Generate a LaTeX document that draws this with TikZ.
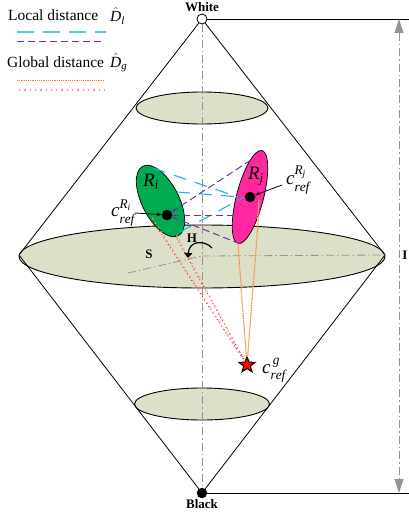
\documentclass[tikz,border=0pt]{standalone}
\usepackage{fontspec}
\usepackage{amsmath}
\setmainfont{Liberation Serif}
\usetikzlibrary{arrows.meta,shapes.geometric}
\definecolor{disc}{RGB}{221,224,200}
\definecolor{gr}{RGB}{0,170,80}
\definecolor{pk}{RGB}{255,40,160}
\definecolor{bl}{RGB}{30,180,240}
\definecolor{pu}{RGB}{112,48,160}
\definecolor{or}{RGB}{240,125,30}
\tikzset{
 cone/.style={draw=black,line width=0.8pt},
 discfill/.style={draw=black,line width=0.9pt,fill=disc},
 axisline/.style={draw=gray!85,line width=0.8pt,dash pattern=on 8pt off 3pt on 1.5pt off 3pt},
 bluedash/.style={draw=bl,line width=1.1pt,dash pattern=on 13pt off 9pt},
 bluelegend/.style={draw=bl!75,line width=1.5pt,dash pattern=on 17pt off 9pt},
 purpledash/.style={draw=pu,line width=1pt,dash pattern=on 7pt off 4pt},
 orangedot/.style={draw=or,line width=0.9pt,dash pattern=on 1.2pt off 1pt},
 orangepale/.style={draw=or!45,line width=1pt,dash pattern=on 1.5pt off 1pt},
 reddot/.style={draw=red,line width=0.9pt,dash pattern=on 0.9pt off 3pt},
 pinkdot/.style={draw=red!45,line width=1.2pt,dash pattern=on 1.3pt off 4pt},
 lbl/.style={inner sep=0pt,font=\fontsize{15.5}{17}\selectfont},
 bold/.style={inner sep=0pt,font=\fontsize{13}{14}\selectfont\bfseries},
 dot/.style={circle,fill=black,inner sep=0pt,minimum size=10.5pt},
 mth/.style={inner sep=0pt,font=\fontsize{19}{21}\selectfont},
}
\begin{document}
\begin{tikzpicture}[x=1pt,y=-1pt]
\useasboundingbox (0,0) rectangle (409,516);
% coordinates
\coordinate (L) at (19,255);
\coordinate (Rt) at (385,255);
\coordinate (C) at (202,256);
\coordinate (Se) at (128,273);
\coordinate (Ibot) at (399,493);
\coordinate (Itop) at (399,19);
\coordinate (Wr) at (409,19);
\coordinate (Br) at (409,493);
% lower and upper discs
\node[discfill,ellipse,minimum width=132pt,minimum height=32pt,inner sep=0pt] (up) at (202,108) {};
\node[discfill,ellipse,minimum width=135pt,minimum height=32pt,inner sep=0pt] (low) at (202,404) {};
\node[discfill,ellipse,minimum width=366pt,minimum height=63pt,inner sep=0pt] (mid) at (202,256.5) {};
% vertices
\node[circle,draw=black,fill=white,line width=0.8pt,inner sep=0pt,minimum size=10pt] (W) at (202,19) {};
\node[dot] (B) at (202,493) {};
% cone
\draw[cone] (W) -- (L) -- (B) -- (Rt) -- (W);
\draw[cone] (W) -- (Wr);
\draw[cone] (B) -- (Br);
% axes
\draw[axisline] (W) -- (B);
\draw[axisline] (C) -- (Rt);
\draw[axisline] (Se) -- (C);
\draw[draw=gray!85,line width=0.8pt,dash pattern=on 8pt off 3pt on 1.5pt off 3pt,{Triangle[width=9pt,length=14pt,fill=gray!85]}-{Triangle[width=9pt,length=14pt,fill=gray!85]}] (Itop) -- (Ibot);
% regions
\node[ellipse,draw=black,fill=gr,line width=0.7pt,minimum width=78pt,minimum height=37pt,inner sep=0pt,rotate=-63] (Ri) at (160.5,201) {};
\node[ellipse,draw=black,fill=pk,line width=0.7pt,minimum width=96pt,minimum height=27pt,inner sep=0pt,rotate=75.5] (Rj) at (250,197) {};
\node[dot] (ci) at (167,215) {};
\node[dot] (cj) at (250,197) {};
\node[star,star points=5,star point ratio=2.4,draw=black,fill=red,line width=1pt,inner sep=0pt,minimum size=17pt] (cg) at (247,365) {};
% end points on regions
\coordinate (g1) at (153,168);
\coordinate (g2) at (177,192);
\coordinate (g3) at (180,232);
\coordinate (p1) at (238,197);
\coordinate (p2) at (240,197);
\coordinate (p3) at (244,197);
\coordinate (p4) at (251,160);
\coordinate (p5) at (233,215);
\coordinate (p6) at (238,243);
\coordinate (p7) at (260,200);
\coordinate (g4) at (151,218);
\coordinate (g5) at (175,235);
% local distance
\draw[bluedash] (g1) -- (p1);
\draw[bluedash] (g2) -- (p2);
\draw[bluedash] (g3) -- (p3);
\draw[purpledash,-{Stealth[length=5pt]}] (p4) -- (ci);
\draw[purpledash] (ci) -- (p5);
\draw[purpledash] (ci) -- (p6);
% global distance
\draw[orangepale] ([xshift=-1pt]p6) -- (cg);
\draw[orangepale] ([xshift=-1pt]p7) -- (cg);
\draw[orangedot] (p6) -- (cg);
\draw[orangedot] (p7) -- (cg);
\draw[reddot] (g4) -- (cg);
\draw[pinkdot] ([xshift=1.5pt]g4) -- (cg);
\draw[reddot] (g5) -- (cg);
\draw[pinkdot] ([xshift=1.5pt]g5) -- (cg);
% H arc
\coordinate (H1) at (212,248);
\coordinate (H2) at (188,258);
\draw[black,line width=1.2pt,-{Triangle[width=8pt,length=5pt]}] (H1) .. controls (205,240) and (189,240) .. (H2);
% labels
\node[bold] (tW) at (202,7) {White};
\node[bold] (tB) at (202,504) {Black};
\node[bold] (tH) at (192,238) {H};
\node[bold] (tS) at (149,254) {S};
\node[bold] (tI) at (405,255) {I};
\node[mth] (tRi) at (151,182) {$\mathit{R}_{\mathit{i}}$};
\node[mth] (tRj) at (256,176) {$\mathit{R}_{\mathit{j}}$};
\node[mth] (tci) at (123,213) {$\mathit{c}_{\mathit{ref}}^{\mathit{R}_{\mathit{i}}}$};
\node[mth] (tcj) at (298,180) {$\mathit{c}_{\mathit{ref}}^{\mathit{R}_{\mathit{j}}}$};
\node[mth] (tcg) at (274,370) {$\mathit{c}_{\mathit{ref}}^{\,\mathit{g}}$};
\draw[black,line width=0.8pt,-{Stealth[open,length=5pt]}] (135,213) -- (ci);
\draw[black,line width=0.8pt,-{Stealth[open,length=5pt]}] (282,185) -- (cj);
% legend
\node[lbl,anchor=west] (t1) at (8,15) {Local distance};
\node[lbl,anchor=west] (d1) at (110,16) {$\hat{\mathit{D}}_{\mathit{l}}$};
\node[lbl,anchor=west] (t2) at (7,62) {Global distance};
\node[lbl,anchor=west] (d2) at (110,63) {$\hat{\mathit{D}}_{\mathit{g}}$};
\coordinate (a1) at (17,32); \coordinate (a2) at (106,32);
\coordinate (b1) at (17,42); \coordinate (b2) at (103,42);
\coordinate (e1) at (17,80); \coordinate (e2) at (105,80);
\coordinate (f1) at (19,90); \coordinate (f2) at (105,90);
\draw[bluelegend] (a1) -- (a2);
\draw[purpledash] (b1) -- (b2);
\draw[orangedot] (e1) -- (e2);
\draw[pinkdot] (f1) -- (f2);
\end{tikzpicture}
\end{document}
